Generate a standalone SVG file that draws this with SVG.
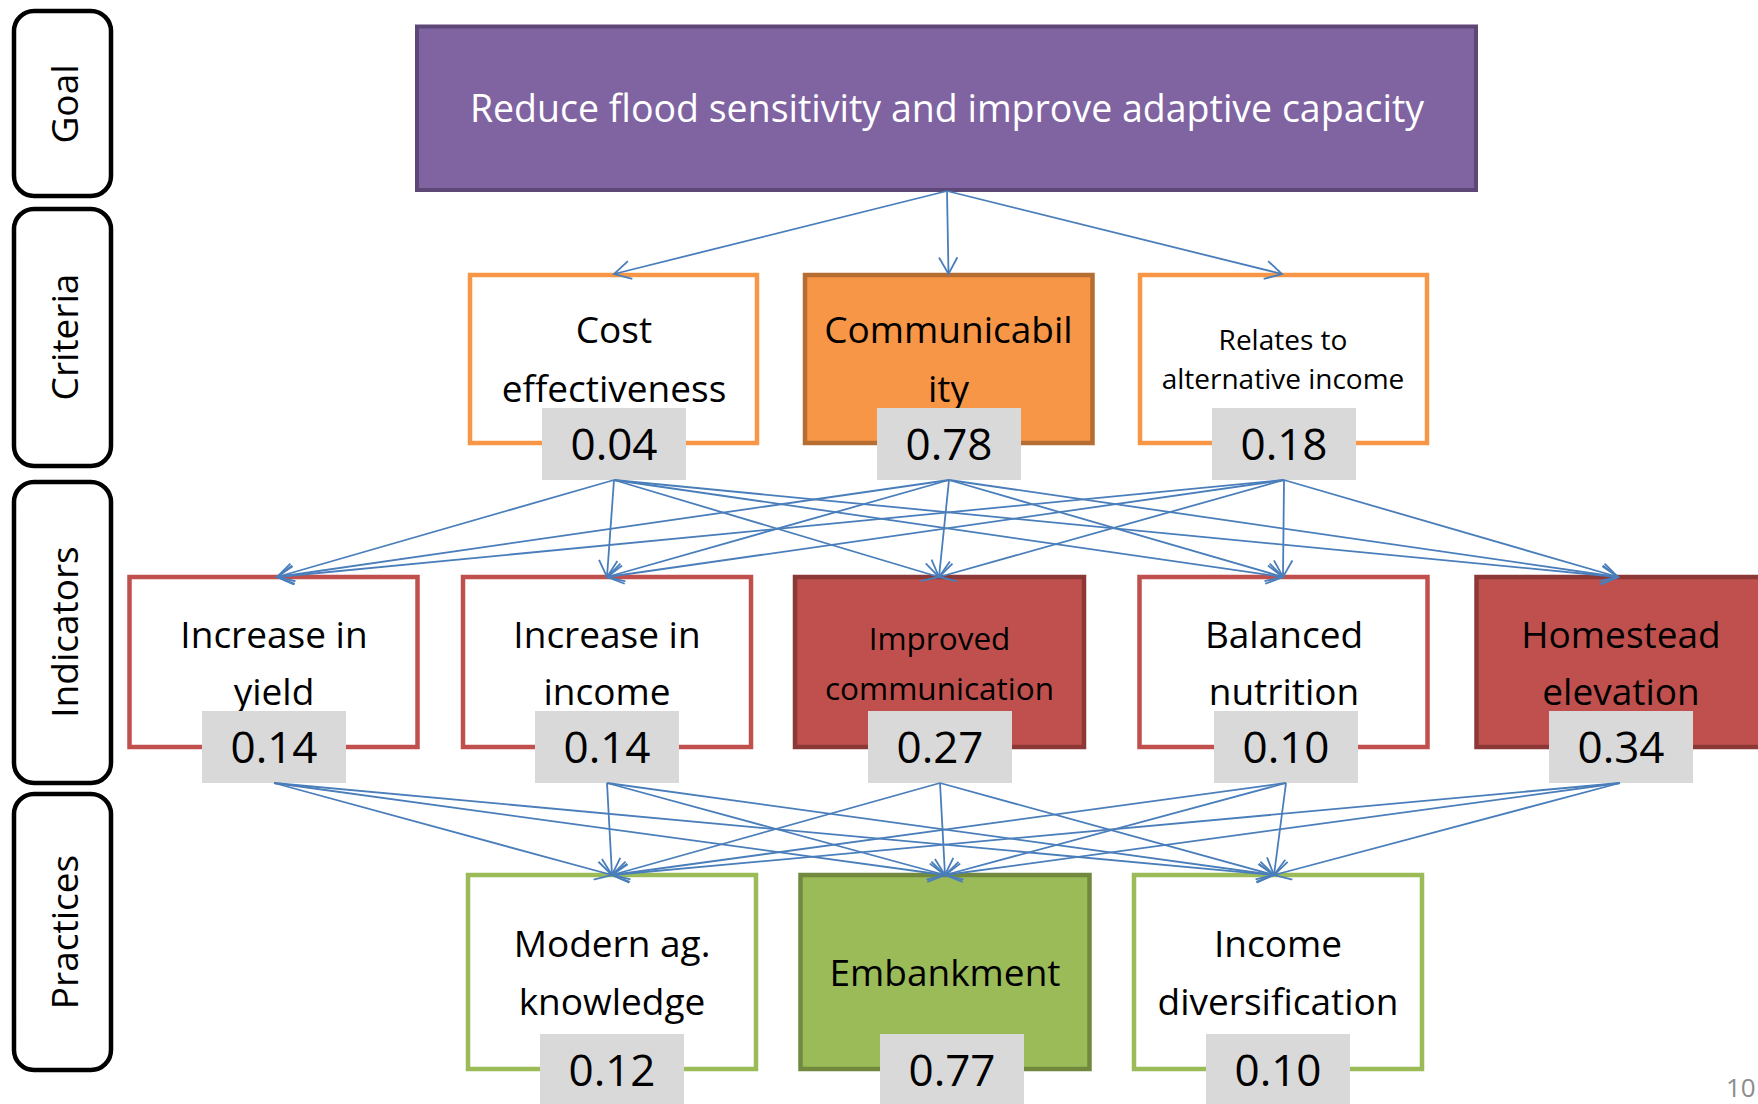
<svg xmlns="http://www.w3.org/2000/svg" width="1758" height="1104" viewBox="0 0 1758 1104">
  <style>
    text { font-family: "Open Sans", "Noto Sans", "Liberation Sans", sans-serif; fill: #000; text-anchor: middle; }
    .side rect { fill: #fff; stroke: #000; stroke-width: 4.5; }
    .side text { font-size: 37px; }
    .goal rect { fill: #8064A2; stroke: #5C4776; stroke-width: 4; }
    .goal text { fill: #fff; font-size: 37.5px; }
    .crit-open rect.box { fill: #fff; stroke: #F79646; stroke-width: 4.5; }
    .crit-fill rect.box { fill: #F79646; stroke: #B66D31; stroke-width: 4.5; }
    .ind-open rect.box { fill: #fff; stroke: #C0504D; stroke-width: 4.5; }
    .ind-fill rect.box { fill: #C0504D; stroke: #8C3836; stroke-width: 4.5; }
    .prac-open rect.box { fill: #fff; stroke: #9BBB59; stroke-width: 4.5; }
    .prac-fill rect.box { fill: #9BBB59; stroke: #71893F; stroke-width: 4.5; }
    rect.val { fill: #D9D9D9; stroke: none; }
    text.val { font-size: 44px; }
    .lbl { font-size: 37px; }
    .lbl-s { font-size: 28px; }
    .lbl-i { font-size: 37px; }
    .lbl-ic { font-size: 31.5px; }
    #connectors line { stroke: #4A7EBB; stroke-width: 1.8; marker-end: url(#arrow); }
    .pagenum { font-size: 26px; fill: #8C8C8C; text-anchor: start; }
  </style>
  <defs>
    <marker id="arrow" markerUnits="userSpaceOnUse" viewBox="0 0 20 20" markerWidth="20" markerHeight="20" refX="18" refY="10" orient="auto">
      <path d="M1.4,0.8 L18,10 L1.4,19.2" fill="none" stroke="#4A7EBB" stroke-width="1.8"/>
    </marker>
  </defs>

  <rect x="0" y="0" width="1758" height="1104" fill="#fff"/>

  <!-- level labels on the left -->
  <g id="side-goal" class="side">
    <rect x="14" y="11" width="97" height="185" rx="20"/>
    <text transform="translate(78,104) rotate(-90)">Goal</text>
  </g>
  <g id="side-criteria" class="side">
    <rect x="14" y="209" width="97" height="257" rx="20"/>
    <text transform="translate(78,337) rotate(-90)">Criteria</text>
  </g>
  <g id="side-indicators" class="side">
    <rect x="14" y="482" width="97" height="301" rx="20"/>
    <text transform="translate(78,632) rotate(-90)">Indicators</text>
  </g>
  <g id="side-practices" class="side">
    <rect x="14" y="794" width="97" height="276" rx="20"/>
    <text transform="translate(78,932) rotate(-90)">Practices</text>
  </g>

  <!-- goal -->
  <g id="goal" class="goal">
    <rect x="417" y="26.5" width="1059" height="163.5"/>
    <text x="947" y="122">Reduce flood sensitivity and improve adaptive capacity</text>
  </g>

  <!-- criteria -->
  <g id="crit-cost" class="crit-open">
    <rect class="box" x="470" y="275" width="287" height="168"/>
    <text class="lbl" x="614" y="343">Cost</text>
    <text class="lbl" x="614" y="402">effectiveness</text>
    <rect class="val" x="542" y="408" width="144" height="72"/>
    <text class="val" x="614" y="460">0.04</text>
  </g>
  <g id="crit-communicability" class="crit-fill">
    <rect class="box" x="805" y="275" width="287.5" height="168"/>
    <text class="lbl" x="948.5" y="343">Communicabil</text>
    <text class="lbl" x="948.5" y="402">ity</text>
    <rect class="val" x="877" y="408" width="144" height="72"/>
    <text class="val" x="949" y="460">0.78</text>
  </g>
  <g id="crit-income" class="crit-open">
    <rect class="box" x="1140" y="275" width="287" height="168"/>
    <text class="lbl-s" x="1283" y="350">Relates to</text>
    <text class="lbl-s" x="1283" y="389">alternative income</text>
    <rect class="val" x="1212" y="408" width="144" height="72"/>
    <text class="val" x="1284" y="460">0.18</text>
  </g>

  <!-- indicators -->
  <g id="ind-yield" class="ind-open">
    <rect class="box" x="129.5" y="577" width="288" height="170"/>
    <text class="lbl-i" x="274" y="648">Increase in</text>
    <text class="lbl-i" x="274" y="705">yield</text>
    <rect class="val" x="202" y="711" width="144" height="72"/>
    <text class="val" x="274" y="763">0.14</text>
  </g>
  <g id="ind-income" class="ind-open">
    <rect class="box" x="463" y="577" width="288" height="170"/>
    <text class="lbl-i" x="607" y="648">Increase in</text>
    <text class="lbl-i" x="607" y="705">income</text>
    <rect class="val" x="535" y="711" width="144" height="72"/>
    <text class="val" x="607" y="763">0.14</text>
  </g>
  <g id="ind-communication" class="ind-fill">
    <rect class="box" x="795" y="577" width="289" height="170"/>
    <text class="lbl-ic" x="939.5" y="650">Improved</text>
    <text class="lbl-ic" x="939.5" y="700">communication</text>
    <rect class="val" x="868" y="711" width="144" height="72"/>
    <text class="val" x="940" y="763">0.27</text>
  </g>
  <g id="ind-nutrition" class="ind-open">
    <rect class="box" x="1139.5" y="577" width="288" height="170"/>
    <text class="lbl-i" x="1284" y="648">Balanced</text>
    <text class="lbl-i" x="1284" y="705">nutrition</text>
    <rect class="val" x="1214" y="711" width="144" height="72"/>
    <text class="val" x="1286" y="763">0.10</text>
  </g>
  <g id="ind-homestead" class="ind-fill">
    <rect class="box" x="1476.5" y="577" width="288" height="170"/>
    <text class="lbl-i" x="1621" y="648">Homestead</text>
    <text class="lbl-i" x="1621" y="705">elevation</text>
    <rect class="val" x="1549" y="711" width="144" height="72"/>
    <text class="val" x="1621" y="763">0.34</text>
  </g>

  <!-- practices -->
  <g id="prac-modern" class="prac-open">
    <rect class="box" x="468" y="875" width="288" height="194"/>
    <text class="lbl" x="612" y="957">Modern ag.</text>
    <text class="lbl" x="612" y="1015">knowledge</text>
    <rect class="val" x="540" y="1034" width="144" height="72"/>
    <text class="val" x="612" y="1086">0.12</text>
  </g>
  <g id="prac-embankment" class="prac-fill">
    <rect class="box" x="800.5" y="875" width="289" height="194"/>
    <text class="lbl" x="945" y="986">Embankment</text>
    <rect class="val" x="880" y="1034" width="144" height="72"/>
    <text class="val" x="952" y="1086">0.77</text>
  </g>
  <g id="prac-diversification" class="prac-open">
    <rect class="box" x="1134" y="875" width="288" height="194"/>
    <text class="lbl" x="1278" y="957">Income</text>
    <text class="lbl" x="1278" y="1015">diversification</text>
    <rect class="val" x="1206" y="1034" width="144" height="72"/>
    <text class="val" x="1278" y="1086">0.10</text>
  </g>

  <!-- connectors -->
  <g id="connectors">
    <!-- goal to criteria -->
    <line x1="947" y1="191" x2="614" y2="274"/>
    <line x1="947" y1="191" x2="948.5" y2="274"/>
    <line x1="947" y1="191" x2="1282" y2="274"/>
    <!-- criteria to indicators -->
    <line x1="614" y1="480" x2="277" y2="577"/>
    <line x1="614" y1="480" x2="607" y2="577"/>
    <line x1="614" y1="480" x2="939" y2="577"/>
    <line x1="614" y1="480" x2="1283" y2="577"/>
    <line x1="614" y1="480" x2="1618" y2="577"/>
    <line x1="949" y1="480" x2="277" y2="577"/>
    <line x1="949" y1="480" x2="607" y2="577"/>
    <line x1="949" y1="480" x2="939" y2="577"/>
    <line x1="949" y1="480" x2="1283" y2="577"/>
    <line x1="949" y1="480" x2="1618" y2="577"/>
    <line x1="1284" y1="480" x2="277" y2="577"/>
    <line x1="1284" y1="480" x2="607" y2="577"/>
    <line x1="1284" y1="480" x2="939" y2="577"/>
    <line x1="1284" y1="480" x2="1283" y2="577"/>
    <line x1="1284" y1="480" x2="1618" y2="577"/>
    <!-- indicators to practices -->
    <line x1="274" y1="783" x2="612" y2="875"/>
    <line x1="274" y1="783" x2="945" y2="875"/>
    <line x1="274" y1="783" x2="1274" y2="875"/>
    <line x1="607" y1="783" x2="612" y2="875"/>
    <line x1="607" y1="783" x2="945" y2="875"/>
    <line x1="607" y1="783" x2="1274" y2="875"/>
    <line x1="940" y1="783" x2="612" y2="875"/>
    <line x1="940" y1="783" x2="945" y2="875"/>
    <line x1="940" y1="783" x2="1274" y2="875"/>
    <line x1="1286" y1="783" x2="612" y2="875"/>
    <line x1="1286" y1="783" x2="945" y2="875"/>
    <line x1="1286" y1="783" x2="1274" y2="875"/>
    <line x1="1620" y1="783" x2="612" y2="875"/>
    <line x1="1620" y1="783" x2="945" y2="875"/>
    <line x1="1620" y1="783" x2="1274" y2="875"/>
  </g>

  <text class="pagenum" x="1726" y="1097">10</text>
</svg>
